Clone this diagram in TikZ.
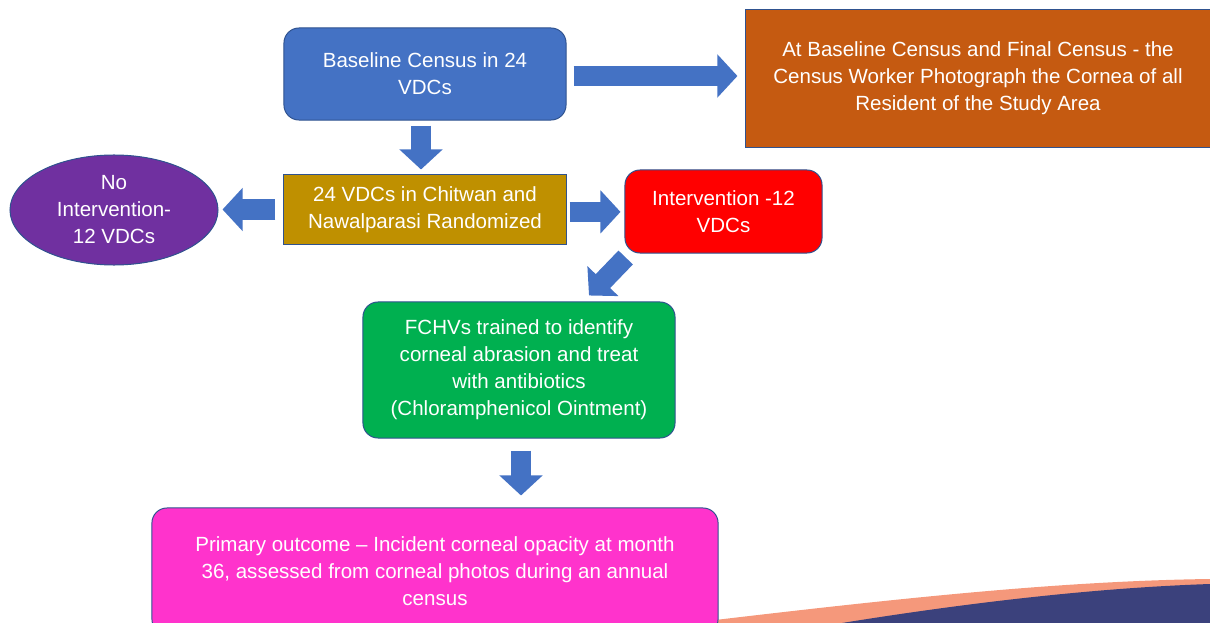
\documentclass[tikz,border=0pt]{standalone}
\usepackage{fontspec}
\setmainfont{Liberation Sans}
\usetikzlibrary{calc,arrows.meta,shapes.geometric}

\definecolor{arrblue}{HTML}{4472C4}
\definecolor{edgeblue}{HTML}{2F528F}
\definecolor{censusorange}{HTML}{C55A11}
\definecolor{randgold}{HTML}{BF9000}
\definecolor{nointpurple}{HTML}{7030A0}
\definecolor{trainedgreen}{HTML}{00B050}
\definecolor{outcomepink}{HTML}{FF33CC}
\definecolor{swooshorange}{HTML}{F5987B}
\definecolor{swooshnavy}{HTML}{3B417C}

\tikzset{
  stepbox/.style={draw=edgeblue, line width=0.7pt, text=white, align=center,
    font=\fontsize{14.6}{19.2}\selectfont, inner sep=0pt},
  roundbox/.style={stepbox, rounded corners=0.375cm},
  blockarr/.style={arrblue, line width=0.5cm,
    -{Triangle[length=0.5cm, width=1.05cm]}}
}

\begin{document}
\begin{tikzpicture}[x=0.025cm, y=-0.025cm]
  \clip (0,0) rectangle (1210,623);
  % swoosh in the corner
  \fill[swooshorange] (690,623) .. controls (900,598) and (1060,581) .. (1210,579) -- (1210,623) -- cycle;
  \fill[swooshnavy] (842,623) .. controls (960,604) and (1090,588) .. (1210,584) -- (1210,623) -- cycle;

  \node[roundbox, fill=arrblue, minimum width=7.05cm, minimum height=2.3cm] (base) at (425,74)
    {Baseline Census in 24\\VDCs};
  \node[stepbox, fill=censusorange, minimum width=11.6cm, minimum height=3.425cm] (photo) at (978,78.5)
    {At Baseline Census and Final Census - the\\Census Worker Photograph the Cornea of all\\Resident of the Study Area};
  \node[stepbox, fill=randgold, minimum width=7.05cm, minimum height=1.725cm] (rand) at (425,209.5)
    {24 VDCs in Chitwan and\\Nawalparasi Randomized};
  \node[stepbox, ellipse, fill=nointpurple, minimum width=5.2cm, minimum height=2.75cm] (noint) at (114,210)
    {No\\Intervention-\\12 VDCs};
  \node[roundbox, fill=red, minimum width=4.925cm, minimum height=2.075cm] (interv) at (723.5,211.5)
    {Intervention -12\\VDCs};
  \node[roundbox, fill=trainedgreen, minimum width=7.8cm, minimum height=3.4cm] (fchv) at (519,370)
    {FCHVs trained to identify\\corneal abrasion and treat\\with antibiotics\\(Chloramphenicol Ointment)};
  \node[roundbox, fill=outcomepink, minimum width=14.15cm, minimum height=3.15cm] (outcome) at (435,571)
    {Primary outcome – Incident corneal opacity at month\\36, assessed from corneal photos during an annual\\census};

  \coordinate (tail) at ([xshift=0.03cm, yshift=-0.1cm]interv.south west);
  \coordinate (tip) at ([xshift=1.75cm, yshift=0.15cm]fchv.north);

  \draw[blockarr, shorten <=0.175cm, shorten >=0.2cm] ([yshift=-0.05cm]base.east) -- ([yshift=-0.05cm]photo.west |- base.east);
  \draw[blockarr, shorten <=0.125cm, shorten >=0.125cm] ([xshift=-0.1cm]base.south) -- ([xshift=-0.1cm]rand.north);
  \draw[blockarr, shorten <=0.2cm, shorten >=0.1cm] (rand.west) -- (noint.east |- rand.west);
  \draw[blockarr, shorten <=0.075cm, shorten >=0.1cm] ([yshift=-0.06cm]rand.east) -- ([yshift=-0.06cm]interv.west |- rand.east);
  \draw[blockarr] (tail) -- (tip);
  \draw[blockarr, shorten <=0.3cm, shorten >=0.3cm] ([xshift=0.05cm]fchv.south) -- ([xshift=0.05cm]fchv.south |- outcome.north);
\end{tikzpicture}
\end{document}
